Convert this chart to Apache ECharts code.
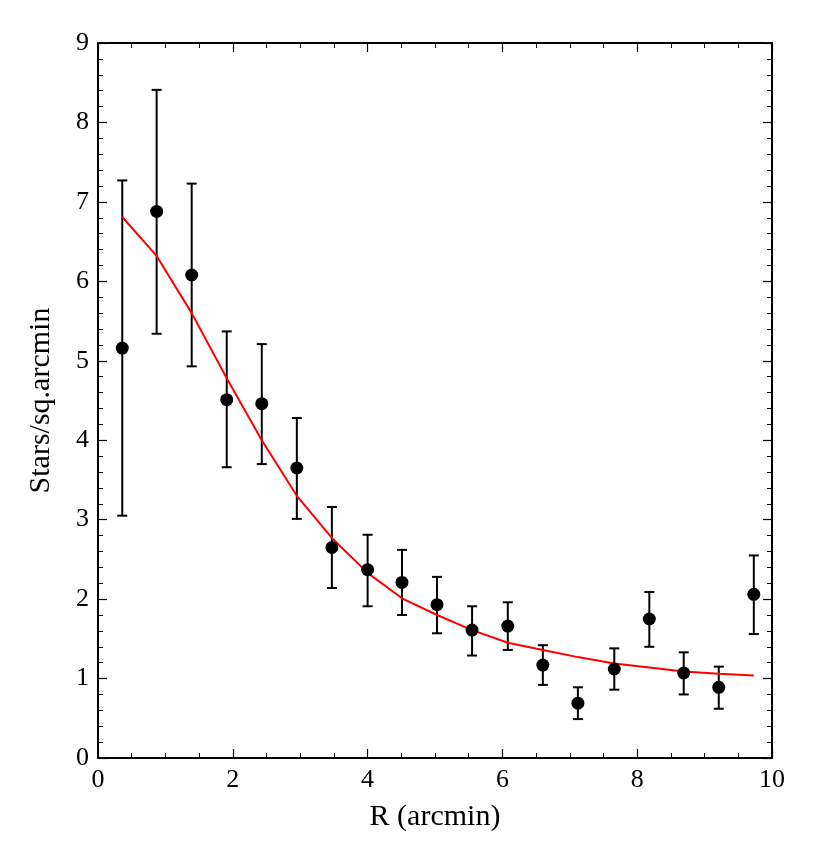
<!DOCTYPE html>
<html>
<head>
<meta charset="utf-8">
<script src="https://cdn.jsdelivr.net/npm/echarts@6/dist/echarts.min.js"></script>
<style>
  html, body { margin: 0; padding: 0; background: #fff; }
  #chart { width: 814px; height: 843px; }
</style>
</head>
<body>
<div id="chart"></div>
<script>
// radial bins (arcmin)
var radius = [0.36, 0.87, 1.39, 1.91, 2.43, 2.95, 3.47, 4.0, 4.51, 5.03, 5.55, 6.08, 6.6, 7.12, 7.66, 8.18, 8.69, 9.21, 9.73];
// measured density
var density = [5.16, 6.88, 6.08, 4.51, 4.46, 3.65, 2.65, 2.37, 2.21, 1.93, 1.61, 1.66, 1.17, 0.69, 1.12, 1.75, 1.07, 0.89, 2.06];
// error bar ends
var errLow = [3.05, 5.34, 4.93, 3.66, 3.70, 3.01, 2.14, 1.91, 1.80, 1.57, 1.29, 1.36, 0.92, 0.49, 0.86, 1.40, 0.80, 0.62, 1.56];
var errHigh = [7.27, 8.41, 7.23, 5.37, 5.21, 4.28, 3.16, 2.81, 2.62, 2.28, 1.91, 1.96, 1.42, 0.89, 1.38, 2.09, 1.33, 1.15, 2.55];
// fitted profile
var model = [6.81, 6.32, 5.60, 4.78, 4.00, 3.30, 2.77, 2.33, 2.01, 1.80, 1.61, 1.45, 1.36, 1.27, 1.19, 1.14, 1.09, 1.06, 1.04];

var font = "'Liberation Serif', 'DejaVu Serif', serif";

var pts = [], errs = [], fit = [];
for (var i = 0; i < radius.length; i++) {
  pts.push([radius[i], density[i]]);
  errs.push([radius[i], errLow[i], errHigh[i]]);
  fit.push([radius[i], model[i]]);
}

var chart = echarts.init(document.getElementById("chart"));

function axisBase(show) {
  return {
    axisLine: { show: true, onZero: false, lineStyle: { color: "#000", width: 2 } },
    axisTick: { show: true, inside: true, length: 9, lineStyle: { color: "#000", width: 1.2 } },
    minorTick: { show: true, length: 5, lineStyle: { color: "#000", width: 1 } },
    splitLine: { show: false },
    axisLabel: { show: show, color: "#000", fontFamily: font, fontSize: 26, margin: 9 }
  };
}

var xb = Object.assign(axisBase(true), {
  type: "value", min: 0, max: 10, interval: 2, position: "bottom",
  name: "R (arcmin)", nameLocation: "middle", nameGap: 44,
  nameTextStyle: { color: "#000", fontFamily: font, fontSize: 30 }
});
xb.minorTick.splitNumber = 4;
var xt = Object.assign(axisBase(false), { type: "value", min: 0, max: 10, interval: 2, position: "top" });
xt.minorTick.splitNumber = 4;

var yl = Object.assign(axisBase(true), {
  type: "value", min: 0, max: 9, interval: 1, position: "left",
  name: "Stars/sq.arcmin", nameLocation: "middle", nameGap: 42,
  nameTextStyle: { color: "#000", fontFamily: font, fontSize: 30 }
});
yl.minorTick.splitNumber = 5;
var yr = Object.assign(axisBase(false), { type: "value", min: 0, max: 9, interval: 1, position: "right" });
yr.minorTick.splitNumber = 5;

var option = {
  backgroundColor: "#fff",
  animation: false,
  grid: { left: 98, right: 42, top: 43, bottom: 85 },
  xAxis: [xb, xt],
  yAxis: [yl, yr],
  series: [
    {
      type: "custom",
      data: errs,
      z: 3,
      renderItem: function (params, api) {
        var x = api.value(0);
        var lo = api.coord([x, api.value(1)]);
        var hi = api.coord([x, api.value(2)]);
        var cap = 5;
        var st = { stroke: "#000", lineWidth: 2 };
        return {
          type: "group",
          children: [
            { type: "line", shape: { x1: lo[0], y1: lo[1], x2: hi[0], y2: hi[1] }, style: st },
            { type: "line", shape: { x1: lo[0] - cap, y1: lo[1], x2: lo[0] + cap, y2: lo[1] }, style: st },
            { type: "line", shape: { x1: hi[0] - cap, y1: hi[1], x2: hi[0] + cap, y2: hi[1] }, style: st }
          ]
        };
      }
    },
    {
      type: "line",
      data: fit,
      z: 4,
      showSymbol: false,
      lineStyle: { color: "#ff0000", width: 2 }
    },
    {
      type: "scatter",
      data: pts,
      z: 5,
      symbolSize: 13,
      itemStyle: { color: "#000", opacity: 1 }
    }
  ]
};
chart.setOption(option);
</script>
</body>
</html>
